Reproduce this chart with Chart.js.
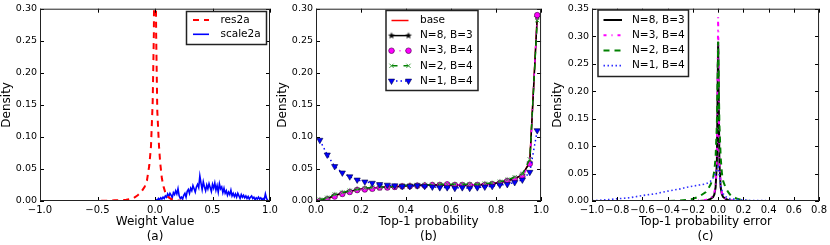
<!DOCTYPE html>
<html>
<head>
<meta charset="utf-8">
<script src="https://cdn.jsdelivr.net/npm/chart.js@4.4.0/dist/chart.umd.min.js"></script>
<style>
  body { margin: 0; background: #fff; width: 830px; height: 245px; position: relative; overflow: hidden; }
  canvas { position: absolute; top: 0; }
</style>
</head>
<body>
<canvas id="ca" width="282" height="245" style="left:0px"></canvas>
<canvas id="cb" width="276" height="245" style="left:276px"></canvas>
<canvas id="cc" width="279" height="245" style="left:551px"></canvas>
<script>
// (a) weight distributions
const resX = [-0.85, -0.7, -0.5, -0.35, -0.25, -0.19, -0.15, -0.12, -0.09, -0.07, -0.05, -0.035, -0.02, -0.01, 0.0, 0.01, 0.02, 0.035, 0.045, 0.06, 0.075, 0.09, 0.11, 0.14, 0.18, 0.25, 0.4, 0.6, 0.85];
const resY = [0, 0, 0, 0.001, 0.002, 0.004, 0.009, 0.014, 0.022, 0.032, 0.055, 0.085, 0.155, 0.26, 0.55, 0.26, 0.14, 0.085, 0.06, 0.035, 0.022, 0.013, 0.007, 0.003, 0.001, 0, 0, 0, 0];
const scaleX = [0.00,0.01,0.02,0.03,0.04,0.05,0.06,0.07,0.08,0.09,
  0.10,0.11,0.12,0.13,0.14,0.15,0.16,0.17,0.18,0.19,
  0.20,0.21,0.22,0.23,0.24,0.25,0.26,0.27,0.28,0.29,
  0.30,0.31,0.32,0.33,0.34,0.35,0.36,0.37,0.38,0.39,
  0.40,0.41,0.42,0.43,0.44,0.45,0.46,0.47,0.48,0.49,
  0.50,0.51,0.52,0.53,0.54,0.55,0.56,0.57,0.58,0.59,
  0.60,0.61,0.62,0.63,0.64,0.65,0.66,0.67,0.68,0.69,
  0.70,0.71,0.72,0.73,0.74,0.75,0.76,0.77,0.78,0.79,
  0.80,0.81,0.82,0.83,0.84,0.85,0.86,0.87,0.88,0.89,
  0.90,0.91,0.92,0.93,0.94,0.95,0.96,0.97,0.98,0.99];
const scaleY = [0.000,0.002,0.001,0.004,0.002,0.005,0.003,0.006,0.004,0.008,
  0.006,0.011,0.007,0.012,0.009,0.005,0.013,0.010,0.016,0.011,
  0.019,0.008,0.004,0.006,0.003,0.009,0.012,0.006,0.015,0.018,
  0.012,0.020,0.016,0.024,0.019,0.014,0.022,0.026,0.021,0.039,
  0.028,0.018,0.030,0.022,0.016,0.025,0.019,0.027,0.021,0.015,
  0.026,0.020,0.028,0.017,0.024,0.014,0.027,0.019,0.022,0.013,
  0.020,0.012,0.016,0.009,0.014,0.010,0.017,0.008,0.012,0.007,
  0.011,0.006,0.012,0.008,0.004,0.010,0.006,0.009,0.005,0.008,
  0.004,0.007,0.003,0.006,0.008,0.004,0.006,0.002,0.005,0.003,
  0.006,0.003,0.005,0.002,0.004,0.002,0.011,0.004,0.001,0.000];

// (b) top-1 probability, 30 bins
const probX = [0.017,0.050,0.083,0.117,0.150,0.183,0.217,0.250,0.283,0.317,
  0.350,0.383,0.417,0.450,0.483,0.517,0.550,0.583,0.617,0.650,
  0.683,0.717,0.750,0.783,0.817,0.850,0.883,0.917,0.950,0.983];
const probBase = [0.000,0.003,0.008,0.012,0.015,0.017,0.019,0.020,0.021,0.022,0.023,0.023,0.024,0.024,0.024,0.025,0.025,0.025,0.025,0.025,0.025,0.025,0.026,0.027,0.029,0.031,0.035,0.040,0.062,0.289];
const probN8 = [0.001,0.004,0.009,0.012,0.015,0.018,0.019,0.020,0.021,0.022,0.022,0.023,0.024,0.024,0.025,0.025,0.025,0.025,0.025,0.024,0.025,0.025,0.026,0.027,0.029,0.032,0.035,0.041,0.060,0.287];
const probN3 = [0.000,0.002,0.007,0.011,0.014,0.017,0.018,0.019,0.021,0.021,0.022,0.023,0.023,0.024,0.024,0.025,0.025,0.026,0.025,0.025,0.025,0.025,0.025,0.026,0.028,0.031,0.034,0.038,0.058,0.290];
const probN2 = [0.002,0.005,0.010,0.013,0.016,0.018,0.020,0.021,0.022,0.022,0.023,0.024,0.024,0.025,0.025,0.025,0.026,0.026,0.026,0.026,0.026,0.026,0.027,0.028,0.030,0.033,0.037,0.042,0.065,0.282];
const probN1 = [0.095,0.072,0.054,0.044,0.038,0.033,0.030,0.028,0.026,0.025,0.024,0.023,0.023,0.024,0.023,0.022,0.021,0.021,0.020,0.021,0.020,0.021,0.022,0.023,0.025,0.026,0.029,0.033,0.045,0.110];

// (c) top-1 probability error
const errX = [-1.0,-0.9,-0.8,-0.7,-0.6,-0.5,-0.4,-0.3,-0.25,-0.2,-0.15,-0.1,-0.08,-0.06,-0.04,-0.03,-0.02,-0.01,0.0,0.01,0.02,0.03,0.04,0.06,0.08,0.1,0.15,0.2,0.25,0.3,0.4,0.5,0.6,0.7,0.8];
const errN8 = [0,0,0,0,0,0,0,0,0,0,0,0.001,0.002,0.004,0.007,0.012,0.025,0.07,0.29,0.07,0.025,0.012,0.007,0.004,0.002,0.001,0,0,0,0,0,0,0,0,0];
const errN3 = [0,0,0,0,0,0,0,0,0,0.0005,0.001,0.002,0.003,0.005,0.009,0.015,0.03,0.08,0.335,0.08,0.028,0.014,0.008,0.004,0.002,0.001,0.0005,0,0,0,0,0,0,0,0];
const errN2 = [0,0,0,0,0,0,0,0.001,0.002,0.004,0.008,0.016,0.022,0.03,0.042,0.055,0.08,0.14,0.29,0.14,0.08,0.05,0.036,0.024,0.016,0.01,0.004,0.001,0,0,0,0,0,0,0];
const errN1 = [0.0005,0.002,0.004,0.006,0.010,0.013,0.018,0.022,0.025,0.027,0.029,0.031,0.033,0.036,0.042,0.046,0.052,0.058,0.062,0.045,0.030,0.020,0.013,0.008,0.005,0.004,0.003,0.002,0.001,0.001,0.0005,0,0,0,0];

const FONT = 'DejaVu Sans';
const pts = (xs, ys) => xs.map((x, i) => ({x: x, y: ys[i]}));
const minus = s => s.replace('-', '\u2212');

function starImg(r, color) {
  const c = document.createElement('canvas');
  const s = Math.ceil(r * 2) + 2;
  c.width = c.height = s;
  const g = c.getContext('2d');
  g.fillStyle = color;
  g.beginPath();
  for (let k = 0; k < 10; k++) {
    const rr = k % 2 ? r * 0.42 : r;
    const a = -Math.PI / 2 + k * Math.PI / 5;
    g.lineTo(s / 2 + rr * Math.cos(a), s / 2 + rr * Math.sin(a));
  }
  g.closePath();
  g.fill();
  return c;
}

// inward ticks on all four sides plus the box
const frame = {
  id: 'frame',
  afterDatasetsDraw(chart) {
    const {ctx, chartArea: a, scales: {x, y}} = chart;
    ctx.save();
    ctx.strokeStyle = '#000';
    ctx.lineWidth = 1;
    ctx.beginPath();
    x.ticks.forEach(t => {
      const px = Math.round(x.getPixelForValue(t.value)) + 0.5;
      ctx.moveTo(px, a.bottom); ctx.lineTo(px, a.bottom - 4);
      ctx.moveTo(px, a.top); ctx.lineTo(px, a.top + 4);
    });
    y.ticks.forEach(t => {
      const py = Math.round(y.getPixelForValue(t.value)) + 0.5;
      ctx.moveTo(a.left, py); ctx.lineTo(a.left + 4, py);
      ctx.moveTo(a.right, py); ctx.lineTo(a.right - 4, py);
    });
    ctx.stroke();
    ctx.strokeStyle = '#222';
    ctx.strokeRect(a.left + 0.5, a.top + 0.5, a.right - a.left - 1, a.bottom - a.top - 1);
    ctx.restore();
  }
};

// matplotlib-like legend box inside the plot
const boxLegend = {
  id: 'boxLegend',
  afterDraw(chart, args, o) {
    if (!o || !o.width) return;
    const ctx = chart.ctx;
    ctx.save();
    ctx.fillStyle = '#fff';
    ctx.fillRect(o.left, o.top, o.width, o.height);
    ctx.strokeStyle = '#222';
    ctx.lineWidth = 1.5;
    ctx.strokeRect(o.left, o.top, o.width, o.height);
    ctx.font = '10.5px "' + FONT + '"';
    ctx.textBaseline = 'middle';
    chart.data.datasets.forEach((ds, i) => {
      const yy = o.rowY + i * o.rowGap;
      ctx.strokeStyle = ds.borderColor;
      ctx.lineWidth = ds.borderWidth;
      ctx.setLineDash(ds.borderDash || []);
      ctx.beginPath();
      ctx.moveTo(o.x0, yy);
      ctx.lineTo(o.x1, yy);
      ctx.stroke();
      ctx.setLineDash([]);
      if (ds.pointRadius) {
        [o.x0, o.x1].forEach(px => {
          ctx.fillStyle = ds.pointBackgroundColor;
          ctx.strokeStyle = ds.pointBorderColor;
          ctx.lineWidth = ds.pointBorderWidth;
          Chart.helpers.drawPoint(ctx, {pointStyle: ds.pointStyle, rotation: ds.pointRotation || 0,
            radius: ds.pointRadius, borderWidth: ds.pointBorderWidth}, px, yy);
        });
      }
      ctx.fillStyle = '#000';
      ctx.fillText(ds.label, o.textX, yy);
    });
    ctx.restore();
  }
};

function make(id, cfg) {
  new Chart(document.getElementById(id), {
    type: 'line',
    data: {datasets: cfg.datasets},
    options: {
      responsive: false,
      animation: false,
      layout: {padding: {top: 6, right: cfg.padRight, left: 0, bottom: 0}},
      elements: {line: {tension: 0}, point: {radius: 0}},
      plugins: {legend: {display: false}, tooltip: {enabled: false}, boxLegend: cfg.legend},
      scales: {
        x: {
          type: 'linear', min: cfg.xMin, max: cfg.xMax,
          afterFit: s => { s.height = 44; },
          grid: {display: false, drawTicks: false},
          border: {display: false},
          ticks: {stepSize: cfg.xStep, autoSkip: false, maxRotation: 0, padding: 3, color: '#000',
            font: {family: FONT, size: 10},
            callback: v => minus(Number(v).toFixed(1))},
          title: {display: true, text: cfg.xTitle, color: '#000', padding: {top: 0, bottom: 0},
            font: {family: FONT, size: 12, lineHeight: 1.28}}
        },
        y: {
          min: 0, max: cfg.yMax,
          afterFit: s => { s.width = cfg.yWidth; },
          grid: {display: false, drawTicks: false},
          border: {display: false},
          ticks: {stepSize: 0.05, padding: 3, color: '#000', font: {family: FONT, size: 9.5},
            callback: v => Number(v).toFixed(2)},
          title: {display: true, text: 'Density', color: '#000', padding: {top: 0, bottom: 0},
            font: {family: FONT, size: 12, lineHeight: 1.15}}
        }
      }
    },
    plugins: [frame, boxLegend]
  });
}

window.addEventListener('load', () => {
  make('ca', {
    xMin: -1, xMax: 1, xStep: 0.5, yMax: 0.3, yWidth: 40, padRight: 12,
    xTitle: ['Weight Value', '(a)'],
    legend: {left: 186.5, top: 11.5, width: 80, height: 33, rowY: 20, rowGap: 14.3, x0: 193, x1: 209, textX: 220.5},
    datasets: [
      {label: 'res2a', data: pts(resX, resY), borderColor: '#ff0000', borderWidth: 2, borderDash: [6, 5], pointRadius: 0, clip: 0},
      {label: 'scale2a', data: pts(scaleX, scaleY), borderColor: '#0000ff', borderWidth: 1.6, pointRadius: 0, clip: 0}
    ]
  });

  const star = starImg(3.6, '#000');
  make('cb', {
    xMin: 0, xMax: 1, xStep: 0.2, yMax: 0.3, yWidth: 40, padRight: 9,
    xTitle: ['Top-1 probability', '(b)'],
    legend: {left: 110, top: 10.5, width: 92, height: 80, rowY: 20.5, rowGap: 15.1, x0: 115.5, x1: 132.5, textX: 144},
    datasets: [
      {label: 'base', data: pts(probX, probBase), borderColor: '#ff0000', borderWidth: 1.5, pointRadius: 0, order: 5},
      {label: 'N=8, B=3', data: pts(probX, probN8), borderColor: '#000000', borderWidth: 1.5,
        pointStyle: star, pointRadius: 3.5, pointBackgroundColor: '#000', pointBorderColor: '#000', pointBorderWidth: 0, order: 4},
      {label: 'N=3, B=4', data: pts(probX, probN3), borderColor: '#ff00ff', borderWidth: 1.5, borderDash: [3, 5, 1, 5],
        pointStyle: 'circle', pointRadius: 2.8, pointBackgroundColor: '#ff00ff', pointBorderColor: '#3a003a', pointBorderWidth: 0.6, order: 3},
      {label: 'N=2, B=4', data: pts(probX, probN2), borderColor: '#008000', borderWidth: 1.5, borderDash: [6, 6],
        pointStyle: 'crossRot', pointRadius: 3, pointBackgroundColor: '#40a040', pointBorderColor: '#40a040', pointBorderWidth: 1, order: 2},
      {label: 'N=1, B=4', data: pts(probX, probN1), borderColor: '#0000ff', borderWidth: 1.5, borderDash: [1.5, 3],
        pointStyle: 'triangle', pointRotation: 180, pointRadius: 3.6, pointBackgroundColor: '#0000ff', pointBorderColor: '#000040', pointBorderWidth: 0.6, order: 1}
    ]
  });

  make('cc', {
    xMin: -1, xMax: 0.8, xStep: 0.2, yMax: 0.35, yWidth: 41, padRight: 8,
    xTitle: ['Top-1 probability error', '(c)'],
    legend: {left: 47, top: 10, width: 90.5, height: 66.5, rowY: 20, rowGap: 15.2, x0: 52.5, x1: 71, textX: 81},
    datasets: [
      {label: 'N=8, B=3', data: pts(errX, errN8), borderColor: '#000000', borderWidth: 2, pointRadius: 0, order: 4},
      {label: 'N=3, B=4', data: pts(errX, errN3), borderColor: '#ff00ff', borderWidth: 2, borderDash: [3, 5, 1, 5], pointRadius: 0, order: 3},
      {label: 'N=2, B=4', data: pts(errX, errN2), borderColor: '#008000', borderWidth: 2, borderDash: [6, 5], pointRadius: 0, order: 2},
      {label: 'N=1, B=4', data: pts(errX, errN1), borderColor: '#3030ff', borderWidth: 1.6, borderDash: [1.5, 2.5], pointRadius: 0, order: 1}
    ]
  });
});
</script>
</body>
</html>
